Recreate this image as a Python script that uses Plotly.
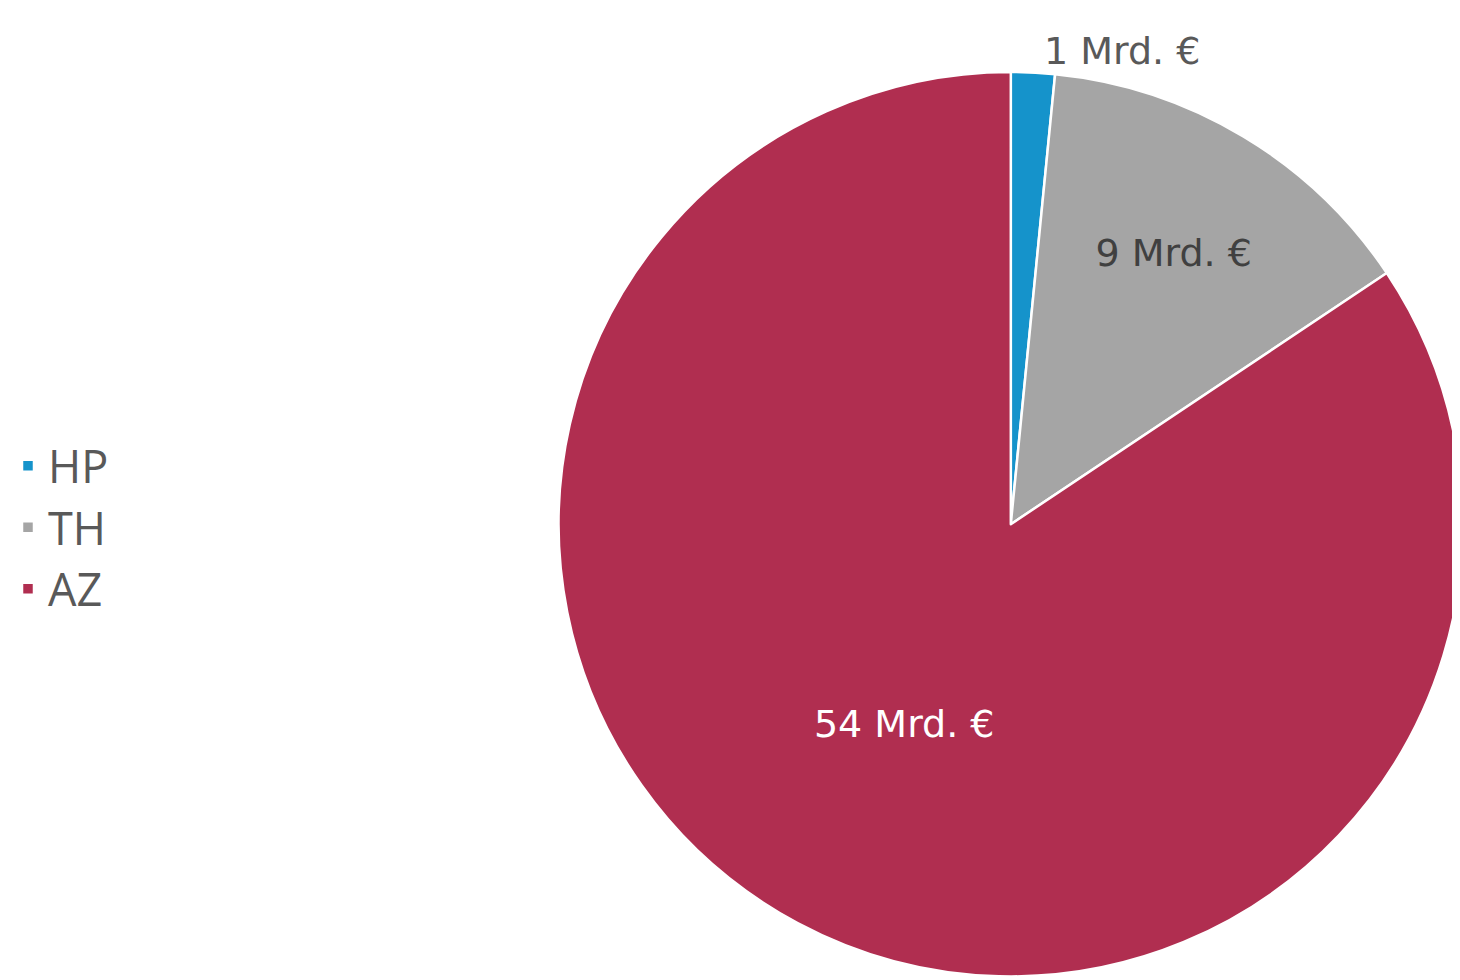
import plotly.graph_objs as go

# Daten
kategorien = ["HP", "TH", "AZ"]
werte = [1, 9, 54]
beschriftungen = ["1 Mrd. €", "9 Mrd. €", "54 Mrd. €"]

farben = ["#1593CB", "#A5A5A5", "#B02E50"]

fig = go.Figure([go.Pie(
    labels=kategorien,
    values=werte,
    text=beschriftungen,
    texttemplate="%{text}",
    textposition=["outside", "inside", "inside"],
    insidetextorientation="horizontal",
    textfont=dict(family="DejaVu Sans", size=38, color=["#595959", "#404040", "#FFFFFF"]),
    outsidetextfont=dict(family="DejaVu Sans", size=38, color="#595959"),
    marker=dict(colors=farben, line=dict(color="#FFFFFF", width=2.5)),
    sort=False,
    direction="clockwise",
    rotation=0,
    hoverinfo="label+value",
    domain=dict(x=[550 / 1460, 1], y=[0, 1 - 62 / 980]),
)])

fig.update_layout(
    width=1460,
    height=980,
    margin=dict(l=0, r=0, t=0, b=0),
    paper_bgcolor="#FFFFFF",
    plot_bgcolor="#FFFFFF",
    showlegend=True,
    legend=dict(
        x=-0.003, y=0.465, xanchor="left", yanchor="middle",
        font=dict(family="Open Sans", size=45, color="#595959"),
        itemwidth=30,
        tracegroupgap=0,
        bgcolor="rgba(0,0,0,0)",
    ),
)

fig.write_html("out.html")
